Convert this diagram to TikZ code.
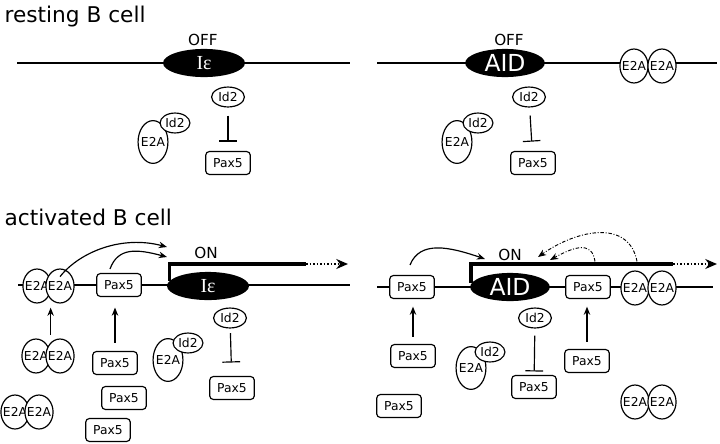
\documentclass[tikz,border=0pt]{standalone}
\usepackage{fontspec}
\setmainfont{DejaVu Sans}
\newfontfamily\iefont{Liberation Serif}
\usetikzlibrary{shapes.geometric,arrows.meta}
\newcommand{\nw}[1]{\makebox[0pt]{#1}}

\begin{document}
\begin{tikzpicture}[x=0.03cm, y=-0.03cm, >={Stealth[length=7pt,width=5.5pt]}, line width=1pt,
    small/.style={font=\fontsize{10.5}{12}\selectfont},
    pax/.style={small, draw, rounded corners=3pt, fill=white, minimum width=38pt, minimum height=19.5pt, inner sep=0pt},
    e2a/.style={small, draw, ellipse, fill=white, minimum width=24pt, minimum height=29pt, inner sep=0pt},
    e2abig/.style={e2a, minimum width=25.5pt, minimum height=36.5pt},
    idtwo/.style={small, draw, ellipse, fill=white, minimum width=28pt, minimum height=17pt, inner sep=0pt},
    gene/.style={ellipse, fill=black, text=white, minimum width=70pt, minimum height=24pt, inner sep=0pt},
    ie/.style={gene, font=\iefont\fontsize{17}{18}\selectfont},
    aid/.style={gene, minimum width=68pt, font=\fontsize{20}{22}\selectfont},
    onoff/.style={font=\fontsize{13}{14}\selectfont},
    title/.style={anchor=base west, inner sep=0pt, font=\fontsize{18.5}{20}\selectfont},
    inhib/.style={-{Bar[width=15pt]}},
    up/.style={->, shorten <=6pt, shorten >=6.5pt},
    online/.style={line width=3pt},
    ondots/.style={line width=2.5pt, dash pattern=on 1.5pt off 1.5pt, -{Stealth[length=10pt,width=8.5pt]}},
    dd/.style={->, line width=0.8pt, dash pattern=on 3pt off 1.5pt on 0.8pt off 1.5pt}]

    \useasboundingbox (0,0) rectangle (720,444);

    \node[title] (rest) at (4,22) {resting B cell};
    \node[title] (act) at (4,225) {activated B cell};

    % resting, I epsilon
    \draw (17,63) -- (350,63);
    \node[ie] (ie1) at (204,63) {Iε};
    \node[onoff] (off1) at (203,40) {OFF};
    \node[idtwo] (id2a) at (228,97) {Id2};
    \node[pax] (pax5a) at (228,163) {Pax5};
    \draw[inhib, shorten <=6.8pt, shorten >=8pt] (id2a) -- (pax5a);
    \node[e2abig] (ce2a) at (153,142) {\nw{E2A}};
    \node[idtwo, minimum width=25.5pt] (cid2a) at (175,123) {Id2};

    % resting, AID
    \draw (377,63) -- (717,63);
    \node[aid] (aid1) at (505,63) {AID};
    \node[onoff] (off2) at (509,40) {OFF};
    \node[e2a] (e2ab1) at (634,66) {\nw{E2A}};
    \node[e2a] (e2ab2) at (662,66) {\nw{E2A}};
    \node[idtwo] (id2b) at (529,97) {Id2};
    \node[pax] (pax5b) at (533,163) {Pax5};
    \draw[inhib, shorten <=6.8pt, shorten >=8pt] (id2b) -- (pax5b);
    \node[e2abig] (ce2b) at (457,142) {\nw{E2A}};
    \node[idtwo, minimum width=25.5pt] (cid2b) at (478,123) {Id2};

    % activated, I epsilon
    \draw (18,285) -- (350,285);
    \node[e2a] (e2ac1) at (37,286) {\nw{E2A}};
    \node[e2a] (e2ac2) at (60,286) {\nw{E2A}};
    \node[pax] (pax5c) at (119,285) {Pax5};
    \node[ie] (ie2) at (208,286) {Iε};
    \node[onoff] (on1) at (206,253) {ON};
    \coordinate (onc) at (306,264);
    \coordinate (once) at (348,264);
    \draw[online] (ie2.172) |- (onc);
    \draw[ondots] (onc) -- (once);
    \coordinate (tgtc1) at (167,247);
    \coordinate (tgtc2) at (167,257);
    \draw[->] ([yshift=-7pt]e2ac2.north) .. controls +(20,-25) and +(-45,-12) .. (tgtc1);
    \draw[->] ([shift={(-9,-4)}]pax5c.north) .. controls +(8,-22) and +(-30,-8) .. (tgtc2);

    \node[e2a] (e2ad1) at (36,356) {\nw{E2A}};
    \node[e2a] (e2ad2) at (60,356) {\nw{E2A}};
    \draw[->, shorten <=3pt, shorten >=3.5pt] (e2ad1.east |- e2ad1.north) -- (e2ad1.east |- e2ac1.south);
    \node[pax] (pax5d) at (115,363) {Pax5};
    \draw[->, shorten <=7pt, shorten >=9pt] (pax5d.north) -- (pax5d.north |- pax5c.south);
    \node[pax] (pax5e) at (124,398) {Pax5};
    \node[pax] (pax5f) at (108,430) {Pax5};
    \node[e2a] (e2ae1) at (15,412) {\nw{E2A}};
    \node[e2a] (e2ae2) at (39,412) {\nw{E2A}};
    \node[e2abig] (ce2c) at (168,360) {\nw{E2A}};
    \node[idtwo, minimum width=25.5pt] (cid2c) at (188,343) {Id2};
    \node[idtwo] (id2c) at (230,318) {Id2};
    \node[pax] (pax5g) at (232,388) {Pax5};
    \draw[inhib, shorten <=4pt, shorten >=11.5pt] (id2c) -- (pax5g);

    % activated, AID
    \draw (377,287) -- (713,287);
    \node[pax] (pax5h) at (412,287) {Pax5};
    \node[aid] (aid2) at (510,287) {AID};
    \node[onoff] (on2) at (510,255) {ON};
    \node[pax] (pax5i) at (588,287) {Pax5};
    \node[e2a] (e2af1) at (635,288) {\nw{E2A}};
    \node[e2a] (e2af2) at (662,288) {\nw{E2A}};
    \coordinate (onf) at (673,264);
    \coordinate (onfe) at (717,264);
    \draw[online] (aid2.174) |- (onf);
    \draw[ondots] (onf) -- (onfe);
    \coordinate (tgtf1) at (485,259);
    \coordinate (tgtf2) at (550,260);
    \coordinate (tgtf3) at (538,257);
    \draw[->] ([shift={(-2,-10)}]pax5h.north) .. controls +(10,-25) and +(-35,-12) .. (tgtf1);
    \draw[dd] ([shift={(7,-13.5)}]pax5i.north) .. controls +(-3,-22) and +(22,-12) .. (tgtf2);
    \draw[dd] ([shift={(2,-9)}]e2af1.north) .. controls +(-8,-42) and +(40,-28) .. (tgtf3);

    \node[pax] (pax5j) at (413,356) {Pax5};
    \draw[up] (pax5j.north) -- (pax5j.north |- pax5h.south);
    \node[pax] (pax5k) at (399,406) {Pax5};
    \node[e2abig] (ce2d) at (471,368) {\nw{E2A}};
    \node[idtwo, minimum width=25.5pt] (cid2d) at (490,352) {Id2};
    \node[idtwo] (id2d) at (535,318) {Id2};
    \node[pax] (pax5l) at (534,387) {Pax5};
    \draw[inhib, shorten <=6pt, shorten >=3pt] (id2d) -- (pax5l);
    \node[pax] (pax5m) at (587,361) {Pax5};
    \draw[up] (pax5m.north) -- (pax5m.north |- pax5i.south);
    \node[e2a] (e2ag1) at (635,402) {\nw{E2A}};
    \node[e2a] (e2ag2) at (662,402) {\nw{E2A}};

\end{tikzpicture}
\end{document}
